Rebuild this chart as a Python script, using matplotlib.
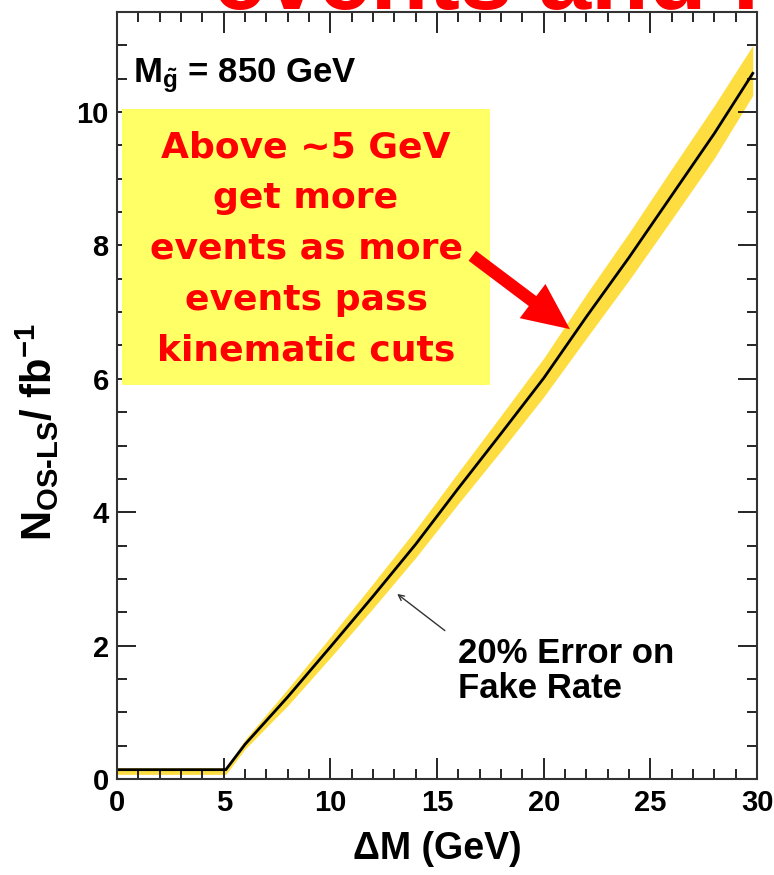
import matplotlib
matplotlib.use('Agg')
import matplotlib.pyplot as plt
from matplotlib.patches import Rectangle
from matplotlib.ticker import MultipleLocator

plt.rcParams['font.family'] = ['Liberation Sans', 'DejaVu Sans']
plt.rcParams['font.weight'] = 'bold'
plt.rcParams['mathtext.fontset'] = 'custom'
plt.rcParams['mathtext.rm'] = 'Liberation Sans:bold'
plt.rcParams['mathtext.it'] = 'Liberation Sans:bold'
plt.rcParams['mathtext.bf'] = 'Liberation Sans:bold'

# N(OS-LS) per fb^-1 vs Delta M, with the 20% fake-rate band
dm = [0, 5.1, 6, 8, 10, 12, 14, 16, 18, 20, 22, 24, 26, 28, 29.8]
n_os_ls = [0.14, 0.14, 0.52, 1.23, 1.98, 2.74, 3.52, 4.36, 5.18, 6.01, 6.93, 7.82, 8.75, 9.68, 10.58]
band_lo = [0.07, 0.07, 0.45, 1.10, 1.82, 2.56, 3.32, 4.13, 4.92, 5.73, 6.61, 7.48, 8.39, 9.31, 10.25]
band_hi = [0.17, 0.17, 0.59, 1.35, 2.13, 2.93, 3.74, 4.60, 5.45, 6.31, 7.27, 8.19, 9.15, 10.10, 11.0]

fig = plt.figure(figsize=(7.74, 8.75), dpi=100)
ax = fig.add_axes([0.1512, 0.1097, 0.8269, 0.8766])

ax.fill_between(dm, band_lo, band_hi, color='#fddd3f', lw=0, zorder=1)
ax.plot(dm, n_os_ls, color='black', lw=2.0, zorder=2)

ax.set_xlim(0, 30)
ax.set_ylim(0, 11.5)
ax.xaxis.set_major_locator(MultipleLocator(5))
ax.xaxis.set_minor_locator(MultipleLocator(1))
ax.yaxis.set_major_locator(MultipleLocator(2))
ax.yaxis.set_minor_locator(MultipleLocator(0.5))
ax.tick_params(which='both', direction='in', top=True, right=True, width=1.2, labelsize=21)
ax.tick_params(axis='x', which='major', length=15, pad=7)
ax.tick_params(axis='y', which='major', length=14, pad=6)
ax.tick_params(which='minor', length=7)
for s in ax.spines.values():
    s.set_linewidth(1.5)
    s.set_color('#333333')

ax.set_xlabel('ΔM (GeV)', fontsize=27, fontweight='bold')
ax.xaxis.set_label_coords(0.5, -0.068)
ax.set_ylabel(r'N$_{OS\text{-}LS}$/ fb$^{-1}$', fontsize=30, fontweight='bold')
ax.yaxis.set_label_coords(-0.088, 0.452)

ax.text(0.75, 10.54, r'M$_{\tilde{g}}$ = 850 GeV', fontsize=25, fontweight='bold', va='center', ha='left')

# yellow note box
ax.add_patch(Rectangle((0.23, 5.90), 17.26, 4.15, facecolor='#ffff66', edgecolor='none', zorder=3))
ax.text(8.86, 7.95, 'Above ~5 GeV\nget more\nevents as more\nevents pass\nkinematic cuts',
        fontsize=26, color='#ff0000', fontweight='bold', family='DejaVu Sans',
        ha='center', va='center', linespacing=1.62, zorder=4)
ax.annotate('', xy=(21.33, 6.72), xytext=(16.55, 7.87),
            arrowprops=dict(arrowstyle='simple,head_length=1.2,head_width=1.1,tail_width=0.32',
                            mutation_scale=28, color='#ff0000', lw=0),
            zorder=5)

ax.annotate('', xy=(13.03, 2.80), xytext=(15.47, 2.20),
            arrowprops=dict(arrowstyle='->', color='#333333', lw=1.0))
ax.text(16.0, 1.62, '20% Error on\nFake Rate', fontsize=25, fontweight='bold', ha='left', va='center',
        linespacing=1.05)

# slide title, cut off by the top edge
fig.text(0.275, 0.99, 'events and F', fontsize=68, color='#ff0000', fontweight='bold',
         ha='left', va='baseline')

fig.savefig('out.png', dpi=100)
